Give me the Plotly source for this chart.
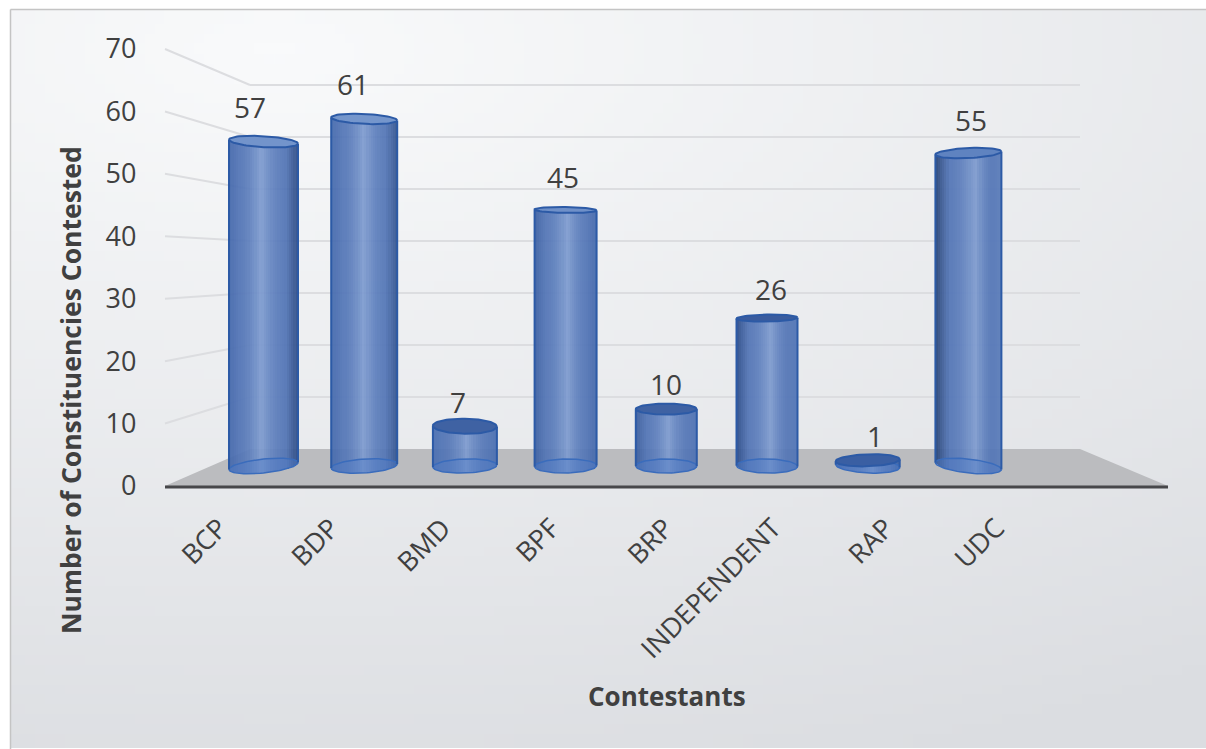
import base64, math, struct, zlib
import numpy as np
import plotly.graph_objects as go

# ---------- data ----------
categories = ["BCP", "BDP", "BMD", "BPF", "BRP", "INDEPENDENT", "RAP", "UDC"]
constituencies = [57, 61, 7, 45, 10, 26, 1, 55]
y_ticks = [0, 10, 20, 30, 40, 50, 60, 70]
x_title = "Contestants"
y_title = "Number of Constituencies Contested"

# ---------- style / geometry ----------
W, H = 1206, 749
TEXT = "#404040"
FONT = "Open Sans"
PX_X0, PX_DX = 263.5, 100.7       # pixel of first category, pixels per category
PX_Y0, PX_DY = 466.0, 5.69        # pixel of value 0, pixels per unit (bar plane)
bar_px_w = [69, 66, 64, 62, 61, 61, 64, 66]
top_tilt = [2.0, 1.5, 0.5, 0.5, 0.0, -0.5, -1.0, -1.5]
bot_tilt = [3.5, 2.0, 1.0, 0.5, 0.0, -0.5, -1.5, -3.5]
top_ell = [5.5, 5.0, 7.5, 3.0, 5.5, 3.5, 6.0, 5.0]
cap_colors = ["#7394cb", "#7596cc", "#3f62a3", "#6f90c8", "#3f62a3", "#3a5c9e", "#3a5fa3", "#5f83c0"]
highlight = [-0.08, -0.02, 0.05, 0.05, 0.08, 0.12, 0.15, 0.22]
edge_l = ["#4468ab", "#4569ac", "#4a6fb2", "#3f62a3", "#3c5f9f", "#2f4f8c", "#3a5fa3", "#2a4678"]
edge_r = ["#2e4c86", "#34558f", "#4a6fb2", "#4468ab", "#4e72b4", "#5275b6", "#3a5fa3", "#5a7cba"]
label_dx = [-14, -11, -7, -3, 0, 4, 7, 3]
label_dy = [14, 14, 3, 12, 4, 8, 3, 12]
tick_dx = [-44, -33, -22, -14, -1, 6, 18, 28]
ELL = 7.0
N = 30


def px(x):
    return x / W


def py(y):
    return 1 - y / H


def hex2rgb(c):
    return np.array([int(c[i:i + 2], 16) for i in (1, 3, 5)], float)


def mix(a, b, u):
    return a + (b - a) * u


MID = hex2rgb("#5577b7")
HI = hex2rgb("#809dd0")


def cyl_color(t, h, el, er):
    el, er = hex2rgb(el), hex2rgb(er)
    if t < h:
        u = (t + 1) / (h + 1)
        c = mix(el, MID, u / 0.35) if u < 0.35 else mix(MID, HI, ((u - 0.35) / 0.65) ** 1.6)
    else:
        u = (1 - t) / (1 - h)
        c = mix(er, MID, u / 0.35) if u < 0.35 else mix(MID, HI, ((u - 0.35) / 0.65) ** 1.6)
    return "rgba(%d,%d,%d,0.94)" % tuple(c)


# background gradient as a small PNG
def png_uri(rgb):
    h, w, _ = rgb.shape
    raw = b"".join(b"\x00" + rgb[r].tobytes() for r in range(h))

    def chunk(tag, data):
        c = struct.pack(">I", len(data)) + tag + data
        return c + struct.pack(">I", zlib.crc32(tag + data) & 0xffffffff)

    data = b"\x89PNG\r\n\x1a\n" + chunk(b"IHDR", struct.pack(">IIBBBBB", w, h, 8, 2, 0, 0, 0)) \
        + chunk(b"IDAT", zlib.compress(raw)) + chunk(b"IEND", b"")
    return "data:image/png;base64," + base64.b64encode(data).decode()


gw, gh = 120, 75
gx, gy = np.meshgrid(np.linspace(0, 1, gw), np.linspace(0, 1, gh))
d = np.clip(np.sqrt(((gx - 0.22) * 0.75) ** 2 + ((gy - 0.05) * 1.0) ** 2) / 1.05, 0, 1)
c0, c1 = np.array([249, 250, 251.]), np.array([219, 221, 225.])
grad = (c0[None, None, :] + (c1 - c0)[None, None, :] * d[:, :, None]).round().astype(np.uint8)

# ---------- figure ----------
fig = go.Figure()

# slices of each cylinder, built from the values
sx, sy, sb, sw, sc = [], [], [], [], []
for i, v in enumerate(constituencies):
    bw = bar_px_w[i] / PX_DX
    for k in range(N):
        t = -1 + (2 * k + 1) / N
        bottom = (-ELL * math.sqrt(max(0, 1 - t * t)) + bot_tilt[i] * t) / PX_DY
        top = v - top_tilt[i] * t / PX_DY
        sx.append(i + t * bw / 2)
        sb.append(bottom)
        sy.append(top - bottom)
        sw.append(bw / N)
        sc.append(cyl_color(t, highlight[i], edge_l[i], edge_r[i]))
fig.add_trace(go.Bar(x=sx, y=sy, base=sb, width=sw, marker=dict(color=sc, line=dict(width=0)),
                     hoverinfo="skip", showlegend=False))

# caps and outlines
a = np.linspace(0, 2 * np.pi, 73)
for i, v in enumerate(constituencies):
    bw = bar_px_w[i] / PX_DX
    cx = i + np.cos(a) * bw / 2
    # bottom ring
    by = (ELL * np.sin(a) + bot_tilt[i] * np.cos(a)) / PX_DY
    fig.add_trace(go.Scatter(x=cx, y=by, mode="lines", line=dict(color="#3a6cbc", width=1.5), fill="toself",
                             fillcolor="rgba(80,125,200,0.45)", hoverinfo="skip", showlegend=False))
    # sides
    fig.add_trace(go.Scatter(x=[i - bw / 2, i - bw / 2, None, i + bw / 2, i + bw / 2],
                             y=[by[36], v + top_tilt[i] / PX_DY, None, by[0], v - top_tilt[i] / PX_DY],
                             mode="lines", line=dict(color="#2c5aa6", width=2), hoverinfo="skip", showlegend=False))
    # top cap
    ty = v + (top_ell[i] * np.sin(a) - top_tilt[i] * np.cos(a)) / PX_DY
    fig.add_trace(go.Scatter(x=cx, y=ty, mode="lines", line=dict(color="#2c5aa6", width=2), fill="toself",
                             fillcolor=cap_colors[i], hoverinfo="skip", showlegend=False))

# invisible trace that carries the left value axis
fig.add_trace(go.Scatter(x=[0] * len(y_ticks), y=y_ticks, yaxis="y2", mode="markers",
                         marker=dict(opacity=0, size=1), hoverinfo="skip", showlegend=False))

shapes = []
F_TOP, F_BOT, B_TOP, B_BOT = 49.0, 486.0, 85.0, 449.0
f_step = (F_BOT - F_TOP) / 70
b_step = (B_BOT - B_TOP) / 70
LEFT_F, LEFT_B, RIGHT_B, RIGHT_F = 165.0, 250.0, 1080.0, 1168.0
# floor
shapes.append(dict(type="path", xref="paper", yref="paper", layer="below",
                   path="M %f,%f L %f,%f L %f,%f L %f,%f Z" % (px(LEFT_F), py(F_BOT), px(LEFT_B), py(B_BOT),
                                                             px(RIGHT_B), py(B_BOT), px(RIGHT_F), py(F_BOT)),
                   fillcolor="#bbbcbf", line=dict(width=0)))
for v in y_ticks:
    yf = F_BOT - v * f_step
    yb = B_BOT - v * b_step
    if v > 0:
        for x0, y0, x1, y1 in [(LEFT_F, yf, LEFT_B, yb), (LEFT_B, yb, RIGHT_B, yb)]:
            shapes.append(dict(type="line", xref="paper", yref="paper", layer="below", x0=px(x0), y0=py(y0),
                               x1=px(x1), y1=py(y1), line=dict(color="#dcdde0", width=2)))
shapes.append(dict(type="line", xref="paper", yref="paper", layer="above", x0=px(LEFT_F), y0=py(487),
                   x1=px(RIGHT_F), y1=py(487), line=dict(color="#47474a", width=3)))
# frame
shapes.append(dict(type="line", xref="paper", yref="paper", layer="below", x0=px(10.5), y0=py(9.5), x1=px(W), y1=py(9.5),
                   line=dict(color="#c4c4c4", width=1.5)))
shapes.append(dict(type="line", xref="paper", yref="paper", layer="below", x0=px(10.5), y0=py(9.5), x1=px(10.5), y1=py(H),
                   line=dict(color="#c4c4c4", width=1.5)))

annotations = []
for i, v in enumerate(constituencies):
    annotations.append(dict(x=i, y=v, xref="x", yref="y", text=str(v), showarrow=False, yanchor="bottom",
                            xshift=label_dx[i], yshift=label_dy[i], font=dict(family=FONT, size=28, color=TEXT)))
annotations.append(dict(x=px(667), y=py(696), xref="paper", yref="paper", text="<b>%s</b>" % x_title, showarrow=False,
                        xanchor="center", yanchor="middle", font=dict(family=FONT, size=26, color=TEXT)))
annotations.append(dict(x=px(71), y=py(390), xref="paper", yref="paper", text="<b>%s</b>" % y_title, showarrow=False,
                        xanchor="center", yanchor="middle", textangle=-90, font=dict(family=FONT, size=26.5, color=TEXT)))

fig.update_layout(
    width=W, height=H, margin=dict(l=0, r=0, t=0, b=0), autosize=False,
    paper_bgcolor="white", plot_bgcolor="rgba(0,0,0,0)", showlegend=False, bargap=0,
    barmode="overlay", font=dict(family=FONT, color=TEXT),
    shapes=shapes, annotations=annotations,
    images=[dict(source=png_uri(grad), xref="paper", yref="paper", x=px(10), y=py(9),
                 sizex=px(W - 10), sizey=(H - 9 - 1) / H, xanchor="left", yanchor="top",
                 sizing="stretch", layer="below")],
    xaxis=dict(domain=[0, 1], range=[-PX_X0 / PX_DX, (W - PX_X0) / PX_DX], anchor="free",
               position=py(506), showgrid=False, zeroline=False, showline=False, ticks="",
               tickmode="array", tickvals=[i + tick_dx[i] / PX_DX for i in range(len(categories))],
               ticktext=categories, tickangle=-45, tickfont=dict(family=FONT, size=27, color=TEXT),
               automargin=False),
    yaxis=dict(domain=[0, 1], range=[-(H - PX_Y0) / PX_DY, PX_Y0 / PX_DY], visible=False),
    yaxis2=dict(domain=[py(F_BOT), py(F_TOP)], range=[0, 70], anchor="free", position=px(136.5), side="left",
                tickmode="array", tickvals=y_ticks, showgrid=False, zeroline=False,
                showline=False, ticks="", tickfont=dict(family=FONT, size=27, color=TEXT), automargin=False),
)

fig.write_html("out.html", config={"displayModeBar": False},
               post_script="document.body.style.margin='0';document.body.style.overflow='hidden';")
